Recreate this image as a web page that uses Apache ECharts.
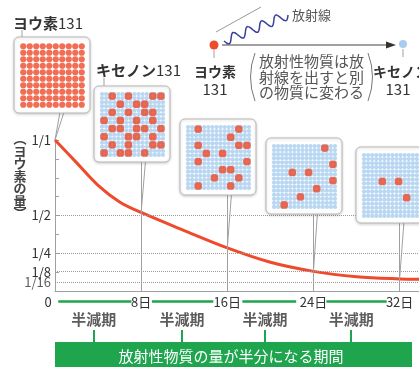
<!DOCTYPE html>
<html>
<head>
<meta charset="utf-8">
<script src="https://cdn.jsdelivr.net/npm/echarts@6/dist/echarts.min.js"></script>
<style>
html, body { margin: 0; padding: 0; background: #fff; }
#chart { width: 419px; height: 367px; }
</style>
</head>
<body>
<div id="chart"></div>
<script>
const FONT = '"Noto Sans CJK JP", "Noto Sans", sans-serif';

// ヨウ素131の残量
const days = [0, 2, 4, 6, 8, 12, 16, 20, 24, 28, 32, 33.8];
const amount = [1, 0.85, 0.7, 0.59, 0.52, 0.4, 0.285, 0.19, 0.13, 0.095, 0.08, 0.078];

// 軸の目盛り
const dayTicks = [0, 8, 16, 24, 32];
const levelValues = [1, 0.5, 0.25, 0.125, 0.0625];
const levelLabels = ['1/1', '1/2', '1/4', '1/8', '1/16'];
const dottedLevels = [0.5, 0.25, 0.125, 0.0625];

// 吹き出しの線 [日, 上端の値]
const calloutDays = [8, 16, 24, 32];
const calloutTops = [0.9, 0.7, 0.6, 0.5];
const calloutCurve = [0.52, 0.285, 0.13, 0.08];

// 半減期の矢印（日）
const arrowSpans = [[0.3, 7.1], [9.0, 14.7], [17.4, 22.4], [25.2, 30.8]];
const halfLifeCenters = [3.6, 11.8, 19.5, 27.5];

// 箱の中の赤い点 [列, 行]（8x8）
const box2Red = [[1,0],[3,0],[6,0],[7,0],[2,1],[4,1],[5,1],[1,2],[3,2],[5,2],[6,2],[0,3],[2,3],[4,3],[6,3],
  [1,4],[2,4],[4,4],[5,4],[7,4],[0,5],[3,5],[4,5],[6,5],[1,6],[3,6],[6,6],[7,6],[0,7],[2,7],[3,7],[5,7]];
const box3Red = [[1,0],[6,0],[5,1],[1,2],[6,2],[7,2],[2,3],[4,3],[1,4],[7,4],[4,5],[5,5],[3,6],[6,6],[1,7],[5,7]];
const box4Red = [[6,0],[7,2],[2,3],[4,3],[7,4],[5,5],[3,6],[1,7]];
const box5Red = [[7,2],[2,3],[4,3],[5,5]];

// 箱の配置
const boxLayout = [
  { x: 14, y: 37, n: 10 },
  { x: 94, y: 86, n: 8 },
  { x: 180, y: 119, n: 8 },
  { x: 266, y: 138, n: 8 },
  { x: 356, y: 147, n: 8 }
];

const RED = '#ee4a2b';
const BLUE = '#a9cdef';
const GREEN = '#1fa54e';
const GRAY = '#a0a0a0';

// ヨウ素131の箱は全部赤
const box1Red = [];
for (let r = 0; r < 10; r++) for (let c = 0; c < 10; c++) box1Red.push([c, r]);
const boxReds = [box1Red, box2Red, box3Red, box4Red, box5Red];

// 青い点の細かい格子（16x16）
const blueLattice = [];
for (let r = 0; r < 16; r++) for (let c = 0; c < 16; c++) blueLattice.push([c * 0.5 - 0.25, r * 0.5 - 0.25]);

const chart = echarts.init(document.getElementById('chart'), null, { renderer: 'canvas' });

const grids = [
  { left: 55, right: 0, top: 140, bottom: 76, outerBoundsMode: 'none' },
  { left: 55, right: 0, top: 291, height: 60, outerBoundsMode: 'none' }
];
const xAxes = [
  {
    gridIndex: 0, type: 'value', min: 0, max: 33.8, interval: 8,
    axisLine: { show: true, onZero: false, lineStyle: { color: GRAY, width: 1 } },
    axisTick: { show: false },
    splitLine: { show: false },
    axisLabel: {
      customValues: dayTicks,
      formatter: v => v === 0 ? '{z|0}' : v + '日',
      color: '#333', fontSize: 13, fontFamily: FONT, margin: 5,
      rich: { z: { color: '#333', fontSize: 13, fontFamily: FONT, padding: [0, 14, 0, 0] } }
    }
  },
  { gridIndex: 1, type: 'value', min: 0, max: 33.8, show: false }
];
const yAxes = [
  {
    gridIndex: 0, type: 'value', min: 0, max: 1, interval: 0.125,
    axisLine: { show: true, lineStyle: { color: GRAY, width: 1 } },
    axisTick: { show: true, inside: true, length: 4, lineStyle: { color: GRAY } },
    splitLine: { show: false },
    axisLabel: {
      customValues: levelValues.slice(0, 4),
      formatter: v => levelLabels[levelValues.indexOf(v)] || '',
      color: '#333', fontSize: 13, fontFamily: FONT, margin: 4, hideOverlap: false
    }
  },
  { gridIndex: 1, type: 'value', min: 0, max: 60, inverse: true, show: false }
];

const series = [
  {
    type: 'line', xAxisIndex: 0, yAxisIndex: 0, z: 3,
    data: days.map((d, i) => [d, amount[i]]),
    smooth: 0.35, symbol: 'none', clip: false,
    lineStyle: { color: RED, width: 3 },
    markLine: {
      silent: true, symbol: ['none', 'none'], animation: false,
      label: { show: false },
      data: [
        ...dottedLevels.map(v => ({ yAxis: v, lineStyle: { type: 'dotted', color: '#999', width: 1 } })),
        ...calloutDays.map((d, i) => [
          { coord: [d, 0], lineStyle: { type: 'solid', color: GRAY, width: 1 } },
          { coord: [d, calloutTops[i]] }
        ]),
        ...calloutDays.map((d, i) => [
          { coord: [d, calloutCurve[i]], lineStyle: { type: 'solid', color: GRAY, width: 1 } },
          { coord: [d + 0.45, calloutTops[i]] }
        ])
      ]
    }
  },
  {
    // 1/16 の目盛りラベル（1/8 と近いので別に描く）
    type: 'scatter', xAxisIndex: 0, yAxisIndex: 0, symbolSize: 0, silent: true, clip: false,
    data: [[0, levelValues[4]]],
    label: {
      show: true, position: 'left', distance: 4, formatter: levelLabels[4],
      color: '#333', fontSize: 13, fontFamily: FONT
    }
  },
  {
    type: 'line', xAxisIndex: 1, yAxisIndex: 1, data: [],
    markLine: {
      silent: true, symbol: ['none', 'arrow'], symbolSize: [0, 9], label: { show: false }, animation: false,
      lineStyle: { type: 'solid', color: GREEN, width: 2.5 },
      data: arrowSpans.map(s => [{ coord: [s[0], 10] }, { coord: [s[1], 10] }])
    }
  },
  {
    type: 'line', xAxisIndex: 1, yAxisIndex: 1, data: [],
    markLine: {
      silent: true, symbol: ['none', 'none'], label: { show: false }, animation: false,
      lineStyle: { type: 'solid', color: GREEN, width: 2 },
      data: halfLifeCenters.map(c => [{ coord: [c, 39] }, { coord: [c, 52] }])
    }
  },
  {
    type: 'scatter', xAxisIndex: 1, yAxisIndex: 1, symbolSize: 0, silent: true,
    data: halfLifeCenters.map(c => [c, 28]),
    label: {
      show: true, position: 'inside', formatter: '半減期',
      color: '#333', fontSize: 15, fontWeight: 'bold', fontFamily: FONT
    }
  }
];

const graphics = [];

// 箱ごとのグリッドと点
boxLayout.forEach((b, k) => {
  const idx = k + 2;
  grids.push({ left: b.x + 6, top: b.y + 6, width: 65, height: 65, outerBoundsMode: 'none' });
  xAxes.push({ gridIndex: idx, type: 'value', min: -0.5, max: b.n - 0.5, show: false });
  yAxes.push({ gridIndex: idx, type: 'value', min: -0.5, max: b.n - 0.5, inverse: true, show: false });
  if (k > 0) {
    series.push({
      type: 'scatter', xAxisIndex: idx, yAxisIndex: idx, z: 20, silent: true,
      symbolSize: 4.3, itemStyle: { color: BLUE }, data: blueLattice
    });
  }
  series.push({
    type: 'scatter', xAxisIndex: idx, yAxisIndex: idx, z: 21, silent: true,
    symbolSize: b.n === 10 ? 6.2 : 7.8, itemStyle: { color: RED }, data: boxReds[k]
  });
  graphics.push({
    type: 'rect', z: 10,
    shape: { x: b.x, y: b.y, width: 76, height: 76, r: 5 },
    style: { fill: '#fff', stroke: '#b8b8b8', lineWidth: 1, shadowBlur: 3, shadowColor: 'rgba(0,0,0,0.18)', shadowOffsetY: 1 }
  });
});

function txt(x, y, text, style) {
  return {
    type: 'text', x: x, y: y, z: 30,
    style: Object.assign({ text: text, fill: '#333', fontSize: 14, fontFamily: FONT, align: 'left', verticalAlign: 'middle' }, style)
  };
}
function seg(x1, y1, x2, y2, color, w) {
  return { type: 'line', z: 5, shape: { x1, y1, x2, y2 }, style: { stroke: color || GRAY, lineWidth: w || 1 } };
}

// 箱へのつなぎ線
graphics.push(seg(60, 112, 55, 140));
graphics.push(seg(64, 112, 55, 140));
graphics.push(seg(22, 30, 22, 38));
graphics.push(seg(104, 78, 104, 87));

// ラベル
graphics.push(txt(13, 23, '{b|ヨウ素}{n|131}', {
  rich: {
    b: { fontSize: 15, fontWeight: 'bold', fontFamily: FONT, fill: '#333' },
    n: { fontSize: 15, fontFamily: FONT, fill: '#333' }
  }
}));
graphics.push(txt(96, 70, '{b|キセノン}{n|131}', {
  rich: {
    b: { fontSize: 15, fontWeight: 'bold', fontFamily: FONT, fill: '#333' },
    n: { fontSize: 15, fontFamily: FONT, fill: '#333' }
  }
}));

// 縦書きの軸名
graphics.push(txt(20, 176, '︵\nヨ\nウ\n素\nの\n量\n︶', {
  align: 'center', fontSize: 13, fontWeight: 'bold', lineHeight: 12.5, fill: '#444'
}));

// 上の説明図
graphics.push({ type: 'circle', z: 30, shape: { cx: 214, cy: 45, r: 4.5 }, style: { fill: RED } });
graphics.push(seg(214, 50, 214, 58, GRAY));
graphics.push(seg(222, 45, 390, 45, '#444', 1.2));
graphics.push({ type: 'polygon', z: 30, shape: { points: [[386, 41.5], [396, 45], [386, 48.5]] }, style: { fill: '#333' } });
graphics.push({ type: 'circle', z: 30, shape: { cx: 403, cy: 44, r: 4 }, style: { fill: BLUE } });
graphics.push(seg(403, 49, 403, 57, GRAY));
graphics.push(txt(215, 72, 'ヨウ素', { align: 'center', fontSize: 14, fontWeight: 'bold' }));
graphics.push(txt(215, 89, '131', { align: 'center', fontSize: 15 }));
graphics.push(txt(373, 72, 'キセノン', { fontSize: 14, fontWeight: 'bold' }));
graphics.push(txt(398, 89, '131', { align: 'center', fontSize: 15 }));

// 放射線
graphics.push(seg(216, 32, 261, 7, '#999', 1));
const wave = [];
for (let i = 0; i <= 90; i++) {
  const t = i / 90;
  const s = Math.sin(t * Math.PI * 2 * 4.5) * 4.5;
  wave.push([224 + 64 * t + 0.37 * s, 41 - 26 * t + 0.93 * s]);
}
graphics.push({ type: 'polyline', z: 30, shape: { points: wave, smooth: 0.3 }, style: { stroke: '#3b3f9e', lineWidth: 1.5, fill: null } });
graphics.push(txt(292, 15, '放射線', { fontSize: 13, fill: '#555' }));

// 括弧つきの説明
graphics.push({ type: 'bezierCurve', z: 30, shape: { x1: 255, y1: 53, x2: 255, y2: 101, cpx1: 246, cpy1: 77 }, style: { stroke: '#777', lineWidth: 1, fill: null } });
graphics.push({ type: 'bezierCurve', z: 30, shape: { x1: 368, y1: 53, x2: 368, y2: 101, cpx1: 377, cpy1: 77 }, style: { stroke: '#777', lineWidth: 1, fill: null } });
graphics.push(txt(311.5, 77, '放射性物質は放\n射線を出すと別\nの物質に変わる', {
  align: 'center', fontSize: 15, lineHeight: 15.5, fill: '#555'
}));

// 下の緑の帯
graphics.push({ type: 'rect', z: 5, shape: { x: 55, y: 342, width: 357, height: 30 }, style: { fill: GREEN } });
graphics.push(txt(231, 356, '放射性物質の量が半分になる期間', { align: 'center', fontSize: 15, fill: '#fff' }));

chart.setOption({
  animation: false,
  backgroundColor: '#fff',
  grid: grids,
  xAxis: xAxes,
  yAxis: yAxes,
  series: series,
  graphic: graphics
});
</script>
</body>
</html>
